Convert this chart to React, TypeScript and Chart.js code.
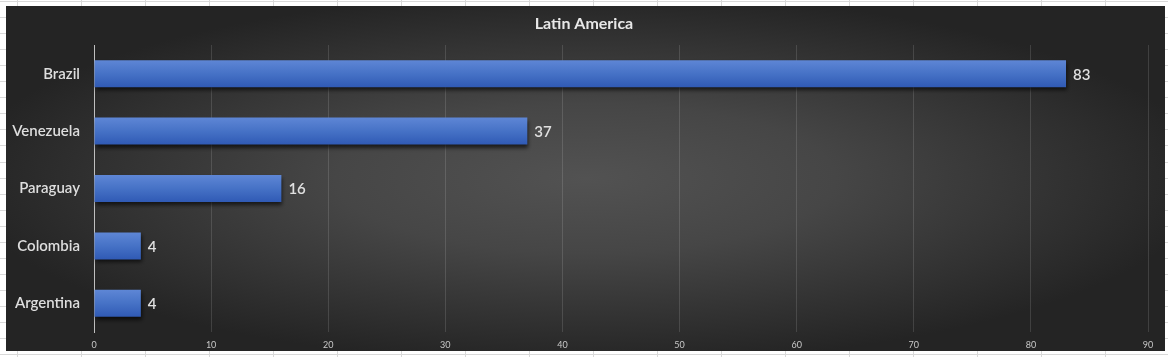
import React, { useEffect, useRef } from "react";
import { Chart, registerables } from "chart.js";

Chart.register(...registerables);

const chartTitle = "Latin America";
const categories = ["Brazil", "Venezuela", "Paraguay", "Colombia", "Argentina"];
const values = [83, 37, 16, 4, 4];
const xMin = 0;
const xMax = 90;
const xStep = 10;

const W = 1168;
const H = 357;
const FONT = "Lato, 'Open Sans', sans-serif";

const backgroundPlugin = {
  id: "excelBackground",
  beforeDraw(chart: any) {
    const ctx = chart.ctx as CanvasRenderingContext2D;
    ctx.save();
    ctx.fillStyle = "#ffffff";
    ctx.fillRect(0, 0, W, H);
    ctx.strokeStyle = "#d9d9d9";
    ctx.lineWidth = 1;
    for (let x = 17; x < W; x += 64) {
      ctx.beginPath();
      ctx.moveTo(x + 0.5, 0);
      ctx.lineTo(x + 0.5, H);
      ctx.stroke();
    }
    for (let y = 1; y < H; y += 16.05) {
      const yy = Math.round(y) + 0.5;
      ctx.beginPath();
      ctx.moveTo(0, yy);
      ctx.lineTo(W, yy);
      ctx.stroke();
    }
    // dark chart area with radial gradient
    const x0 = 6, y0 = 6, x1 = 1165, y1 = 351;
    const cx = (x0 + x1) / 2, cy = (y0 + y1) / 2;
    const rw = (x1 - x0) / 2, rh = (y1 - y0) / 2;
    ctx.save();
    ctx.beginPath();
    ctx.rect(x0, y0, x1 - x0, y1 - y0);
    ctx.clip();
    ctx.translate(cx, cy);
    ctx.scale(1, rh / rw);
    const g = ctx.createRadialGradient(0, 0, 0, 0, 0, rw * 1.08);
    g.addColorStop(0, "#525252");
    g.addColorStop(0.4, "#464646");
    g.addColorStop(1, "#242424");
    ctx.fillStyle = g;
    ctx.fillRect(-rw * 1.2, -rw * 1.2, rw * 2.4, rw * 2.4);
    ctx.restore();
    // title
    ctx.fillStyle = "#e8e8e8";
    ctx.font = `bold 16px ${FONT}`;
    ctx.textAlign = "center";
    ctx.textBaseline = "middle";
    ctx.fillText(chartTitle, 584, 24);
    ctx.restore();
  },
};

const barDecorPlugin = {
  id: "barDecor",
  beforeDatasetsDraw(chart: any) {
    const ctx = chart.ctx as CanvasRenderingContext2D;
    ctx.save();
    ctx.shadowColor = "rgba(0,0,0,0.65)";
    ctx.shadowBlur = 4;
    ctx.shadowOffsetX = 1;
    ctx.shadowOffsetY = 3;
  },
  afterDatasetsDraw(chart: any) {
    const ctx = chart.ctx as CanvasRenderingContext2D;
    ctx.restore();
    ctx.save();
    ctx.fillStyle = "#e0e0e0";
    ctx.font = `600 15px ${FONT}`;
    ctx.textAlign = "left";
    ctx.textBaseline = "middle";
    const meta = chart.getDatasetMeta(0);
    meta.data.forEach((el: any, i: number) => {
      ctx.fillText(String(values[i]), el.x + 7, el.y + 1);
    });
    ctx.restore();
  },
};

export default function App() {
  const ref = useRef<HTMLCanvasElement | null>(null);

  useEffect(() => {
    if (!ref.current) return;
    const chart = new Chart(ref.current, {
      type: "bar",
      data: {
        labels: categories,
        datasets: [
          {
            data: values,
            backgroundColor: (c: any) => {
              const ch = c.chart;
              const ys = ch.scales?.y;
              if (!ch.chartArea || !ys || c.dataIndex === undefined) return "#4472c4";
              const yc = ys.getPixelForValue(c.dataIndex);
              if (!Number.isFinite(yc)) return "#4472c4";
              const half = 14;
              const g = ch.ctx.createLinearGradient(0, yc - half, 0, yc + half);
              g.addColorStop(0, "#5f87d6");
              g.addColorStop(0.5, "#4672c6");
              g.addColorStop(1, "#2f59b4");
              return g;
            },
            borderWidth: 0,
            barPercentage: 0.47,
            categoryPercentage: 1,
          },
        ],
      },
      options: {
        responsive: false,
        animation: false,
        indexAxis: "y",
        layout: { padding: { top: 45, right: 20, left: 0, bottom: 0 } },
        plugins: {
          legend: { display: false },
          title: { display: false },
          tooltip: { enabled: false },
        },
        scales: {
          x: {
            min: xMin,
            max: xMax,
            ticks: {
              stepSize: xStep,
              color: "#c8c8c8",
              font: { family: FONT, size: 9 },
              padding: 8,
            },
            grid: { color: "rgba(255,255,255,0.13)", drawTicks: false },
            border: { display: false },
            afterFit: (s: any) => {
              s.height = 25;
            },
          },
          y: {
            ticks: {
              color: "#dedede",
              font: { family: FONT, size: 15, weight: "600" },
              padding: 14,
            },
            grid: { display: false, drawTicks: false },
            border: { display: true, color: "#bfbfbf", width: 1 },
            afterFit: (s: any) => {
              s.width = 94;
            },
          },
        },
      },
      plugins: [backgroundPlugin, barDecorPlugin],
    } as any);
    return () => chart.destroy();
  }, []);

  return (
    <div style={{ position: "absolute", left: 0, top: 0, width: W, height: H }}>
      <canvas ref={ref} width={W} height={H} style={{ display: "block" }} />
    </div>
  );
}
